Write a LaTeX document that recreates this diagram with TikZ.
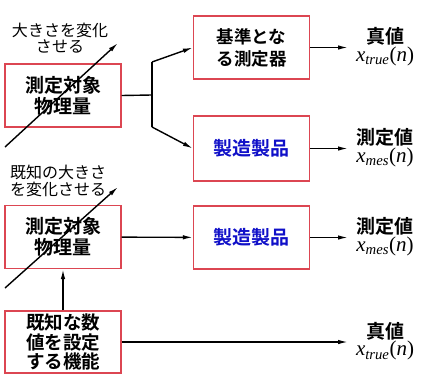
\documentclass[tikz,border=0pt]{standalone}
\usepackage{fontspec}
\setmainfont{Noto Sans CJK JP}[BoldFont=* Bold]
\newfontfamily\timesfont{Liberation Serif}
\usepackage{tikz}
\usetikzlibrary{arrows.meta,positioning,calc}
\definecolor{boxred}{HTML}{DC4652}
\definecolor{prodblue}{HTML}{1010C8}
\definecolor{ink}{HTML}{000000}
\newcommand{\xval}[1]{{\timesfont\itshape x\textsubscript{#1}\upshape(\itshape n\upshape)}}

\begin{document}
\begin{tikzpicture}[x=1pt,y=-1pt,
  blk/.style={draw=boxred,line width=1.3pt,minimum width=116pt,minimum height=63pt,align=center,inner sep=0pt,text=ink},
  lbl/.style={align=center,inner sep=0pt,text=ink},
  big/.style={font=\fontsize{19}{21}\selectfont\bfseries},
  arr/.style={line width=1.4pt,-{Latex[length=10pt,width=4.5pt]}},
  ln/.style={line width=1.4pt}]
  \useasboundingbox (0,0) rectangle (435,385);
  % upper chain
  \node[blk,big] (objA) at (63,95.5){測定対象\\物理量};
  \node[blk,font=\fontsize{17.5}{22}\selectfont\bfseries] (ref) at (251.5,47.5){基準とな\\る測定器};
  \node[blk,big,minimum height=65pt,text=prodblue] (prodA) at (251.5,148.5){製造製品};
  \coordinate (split) at (152,95);
  \coordinate (splitU) at (152,62);
  \coordinate (splitD) at (152,127);
  \draw[ln] (objA.east) -- (split);
  \draw[ln] (splitU) -- (splitD);
  \draw[arr] (splitU) -- (ref.west);
  \draw[arr] (splitD) -- (prodA.west);
  % lower chain
  \node[blk,big] (objB) at (63,237){測定対象\\物理量};
  \node[blk,big,text=prodblue] (prodB) at (251.5,237.5){製造製品};
  \node[blk,minimum height=62pt,font=\fontsize{18.5}{19.5}\selectfont\bfseries] (known) at (63,342){既知な数\\値を設定\\する機能};
  \draw[arr] (objB) -- (prodB);
  \draw[arr] (known) -- (objB);
  % outputs
  \foreach \src/\yy/\name/\sub [count=\i] in {ref/47.5/真値/true, prodA/148.5/測定値/mes, prodB/237.5/測定値/mes, known/342/真値/true}{
    \coordinate (out\i) at (348,\yy);
    \draw[arr] (\src.east|-out\i) -- (out\i);
    \node[lbl,font=\fontsize{19}{21}\selectfont\bfseries] (name\i) at (385,\yy-11){\name};
    \node[lbl,font=\fontsize{21}{23}\selectfont,below=1pt of name\i] (sym\i){\xval{\sub}};
  }
  % varied inputs
  \node[lbl,font=\fontsize{16}{16.5}\selectfont] (varyA) at (60,38){大きさを変化\\させる};
  \node[lbl,font=\fontsize{16}{16.5}\selectfont] (varyB) at (58,181){既知の大きさ\\を変化させる};
  \coordinate (inA) at (5,147);
  \coordinate (tipA) at (118,43);
  \coordinate (inB) at (5,288);
  \coordinate (tipB) at (118,187);
  \draw[arr] (inA) -- (tipA);
  \draw[arr] (inB) -- (tipB);
\end{tikzpicture}
\end{document}
